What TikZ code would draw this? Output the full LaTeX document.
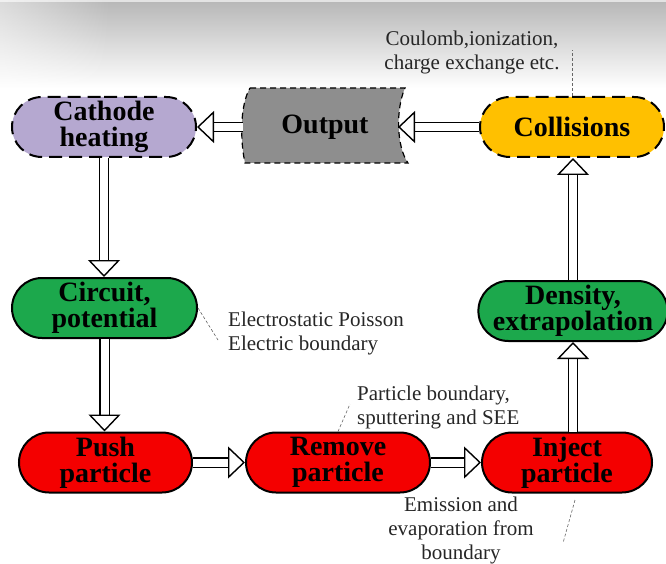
\documentclass[tikz,border=0pt]{standalone}
\usepackage{fontspec}
\setmainfont{Liberation Serif}
\usetikzlibrary{arrows.meta,shapes.misc,fadings}
\definecolor{lav}{HTML}{B5A8D0}
\definecolor{outgray}{HTML}{8E8E8E}
\definecolor{orng}{HTML}{FFC000}
\definecolor{grn}{HTML}{1CA84C}
\definecolor{rd}{HTML}{F40000}
\tikzfading[name=fadeR, left color=transparent!50, right color=transparent!100]
\begin{document}
\begin{tikzpicture}[x=1pt,y=-1pt,
 pill/.style={rounded rectangle, draw=black, line width=2pt, minimum height=60pt, inner sep=0pt, align=center, font=\fontsize{28}{26}\selectfont\bfseries},
 dashpill/.style={pill, dash pattern=on 13pt off 7pt},
 note/.style={inner sep=0pt, font=\fontsize{21}{24}\selectfont, text=black!85},
 hollow/.style={draw=black, line width=1.4pt, double=white, double distance=8pt, -{Triangle[length=17pt,width=32pt,fill=white,line width=1.4pt]}},
 leader/.style={draw=black!60, line width=0.6pt, dash pattern=on 3pt off 2pt}]
\useasboundingbox (0,0) rectangle (666,564);
\fill[gray!22] (0,0) rectangle (666,3);
\shade[top color=gray!55, bottom color=white] (0,3) rectangle (666,88);
\fill[white, path fading=fadeR] (0,0) rectangle (110,88);

\node[dashpill, fill=lav, minimum width=184pt] (cath) at (104,127) {Cathode\\heating};
\draw[fill=outgray, draw=black, line width=1.2pt, dash pattern=on 6pt off 4pt] (250,88) -- (405,88) .. controls (396,108) and (396,146) .. (408,163) -- (245,163) .. controls (240,140) and (240,105) .. (250,88) -- cycle;
\node[font=\fontsize{28}{26}\selectfont\bfseries, inner sep=0pt] (out) at (325,127) {Output};
\coordinate (outR) at (398,127);
\coordinate (outL) at (243,127);
\node[dashpill, fill=orng, minimum width=184pt] (coll) at (572,127) {Collisions};
\node[pill, fill=grn, minimum width=185pt] (circ) at (104.5,308) {Circuit,\\potential};
\node[pill, fill=grn, minimum width=184pt] (dens) at (573,311) {Density,\\extrapolation};
\node[pill, fill=rd, minimum width=173pt] (push) at (105.5,462.5) {Push\\particle};
\node[pill, fill=rd, minimum width=184pt] (rem) at (338,462.5) {Remove\\particle};
\node[pill, fill=rd, minimum width=170pt] (inj) at (567,462.5) {Inject\\particle};

\draw[hollow] (coll.west) -- (outR);
\draw[hollow] (outL) -- (cath.east);
\draw[hollow] (cath.south) -- (cath.south |- circ.north);
\draw[hollow] (circ.south) -- (circ.south |- push.north);
\draw[hollow] (push.east) -- (rem.west);
\draw[hollow] (rem.east) -- (inj.west);
\draw[hollow] (inj.north -| dens.south) -- (dens.south);
\draw[hollow] (dens.north) -- (dens.north |- coll.south);

\node[note, align=center, anchor=north] (nColl) at (472,31) {Coulomb,ionization,\\charge exchange etc.};
\coordinate (lc) at (572,50);
\draw[leader] (coll.north) -- (lc);
\node[note, align=left, anchor=north west] (nCirc) at (228,312) {Electrostatic Poisson\\Electric boundary};
\coordinate (lci) at (218,340);
\draw[leader] (circ.east) -- (lci);
\node[note, align=left, anchor=north west] (nRem) at (357,386) {Particle boundary,\\sputtering and SEE};
\coordinate (lr) at (350,404);
\draw[leader] (rem.north) -- (lr);
\node[note, align=center, anchor=north] (nInj) at (461,497) {Emission and\\evaporation from\\boundary};
\coordinate (li1) at (575,500);
\coordinate (li2) at (563,543);
\draw[leader] (li1) -- (li2);
\end{tikzpicture}
\end{document}
